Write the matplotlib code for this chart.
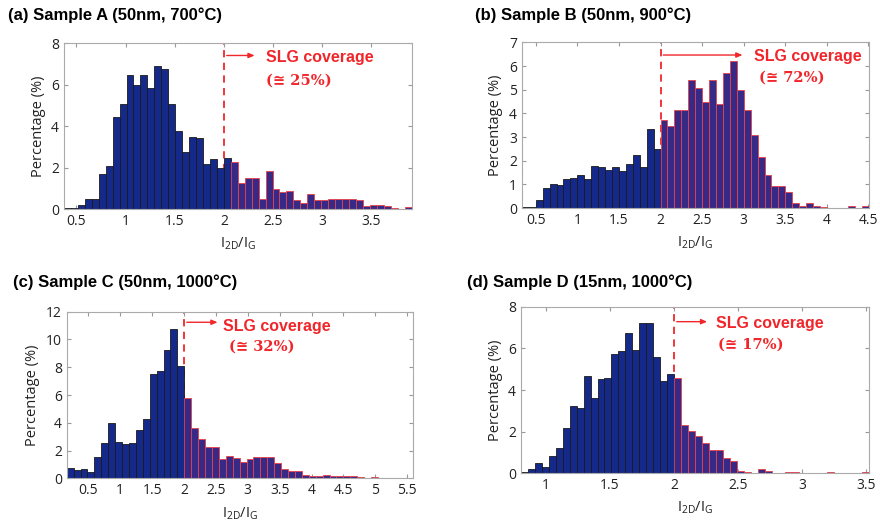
import matplotlib.pyplot as plt
import numpy as np
from matplotlib.ticker import FormatStrFormatter

# Raman I2D/IG histograms, 50 bins each (percent of spectra)
# bins: first left edge and bin width per sample
a_start, a_width = 0.373, 0.0707
a_heights = [0.05, 0.05, 0.2, 0.5, 0.5, 1.7, 2.07, 4.45, 5.06, 6.46,
             6.0, 6.46, 5.84, 6.9, 6.75, 5.06, 3.78, 2.77, 3.5, 3.41,
             2.16, 2.4, 1.98, 2.45, 2.28, 1.26, 1.52, 1.52, 0.5, 1.83,
             0.97, 0.81, 0.86, 0.42, 0.32, 0.71, 0.42, 0.42, 0.5, 0.5,
             0.5, 0.5, 0.42, 0.15, 0.2, 0.2, 0.15, 0.05, 0.0, 0.1]

b_start, b_width = 0.33, 0.0835
b_heights = [0.05, 0.05, 0.34, 0.85, 1.04, 0.99, 1.23, 1.28, 1.39, 1.23,
             1.8, 1.75, 1.63, 1.75, 1.56, 1.87, 2.24, 1.75, 3.34, 2.5,
             3.72, 3.45, 4.15, 4.15, 5.4, 5.06, 4.5, 5.4, 4.41, 5.7,
             6.2, 4.99, 4.15, 3.11, 2.15, 1.39, 0.92, 0.92, 0.7, 0.2,
             0.11, 0.2, 0.11, 0.06, 0.0, 0.0, 0.0, 0.1, 0.0, 0.1]

c_start, c_width = 0.16, 0.1085
c_heights = [0.74, 0.62, 0.65, 0.46, 1.53, 2.52, 3.98, 2.59, 2.47, 2.52,
             3.5, 4.27, 7.53, 7.75, 9.26, 10.72, 8.06, 5.76, 3.62, 2.81,
             2.23, 2.23, 1.37, 1.65, 1.46, 1.17, 1.37, 1.56, 1.56, 1.56,
             1.08, 0.67, 0.5, 0.5, 0.26, 0.19, 0.19, 0.24, 0.19, 0.19,
             0.14, 0.14, 0.1, 0.05, 0.12, 0.05, 0.05, 0.05, 0.03, 0.05]

d_start, d_width = 0.806, 0.0543
d_heights = [0.06, 0.22, 0.51, 0.3, 0.84, 1.19, 2.17, 3.25, 3.13, 4.67,
             3.63, 4.52, 4.6, 5.73, 5.87, 6.73, 5.94, 7.22, 7.22, 5.57,
             4.44, 4.78, 4.59, 2.3, 2.05, 1.78, 1.44, 1.11, 1.11, 0.73,
             0.57, 0.08, 0.05, 0.0, 0.22, 0.08, 0.0, 0.0, 0.05, 0.05,
             0.0, 0.0, 0.0, 0.0, 0.05, 0.0, 0.0, 0.0, 0.0, 0.05]

titles = ["(a) Sample A (50nm, 700°C)", "(b) Sample B (50nm, 900°C)",
          "(c) Sample C (50nm, 1000°C)", "(d) Sample D (15nm, 1000°C)"]
coverage = ["(≅ 25%)", "(≅ 72%)", "(≅ 32%)", "(≅ 17%)"]
slg_threshold = 2.0

plt.rcParams['mathtext.fontset'] = 'custom'
plt.rcParams['mathtext.rm'] = 'Open Sans'
plt.rcParams['mathtext.it'] = 'Open Sans'

BLUE = "#15298a"
PURPLE = "#372a86"
RED = "#f0262b"

fig = plt.figure(figsize=(8.8, 5.31), dpi=100)

# axes boxes [left, bottom, width, height]
boxes = [[0.0727, 0.606, 0.395, 0.313],
         [0.593, 0.608, 0.394, 0.312],
         [0.0758, 0.099, 0.393, 0.314],
         [0.592, 0.109, 0.3955, 0.313]]
panels = [(a_start, a_width, a_heights), (b_start, b_width, b_heights),
          (c_start, c_width, c_heights), (d_start, d_width, d_heights)]
xticks = [np.arange(0.5, 3.6, 0.5), np.arange(0.5, 4.6, 0.5),
          np.arange(0.5, 5.6, 0.5), np.arange(1.0, 3.6, 0.5)]
ylims = [8, 7, 12, 8]
ysteps = [2, 1, 2, 2]
# where the arrow / labels sit (x_end of arrow, arrow y, text x, text y, line2 x, line2 y)
notes = [(2.34, 7.4, 2.43, 7.3, 2.43, 6.2),
         (3.02, 6.47, 3.12, 6.4, 3.18, 5.5),
         (2.57, 11.24, 2.61, 10.9, 2.70, 9.5),
         (2.28, 7.29, 2.33, 7.22, 2.34, 6.2)]
title_pos = [(0.009, 0.972), (0.54, 0.972), (0.015, 0.468), (0.531, 0.468)]

for i in range(4):
    ax = fig.add_axes(boxes[i])
    start, width, heights = panels[i]
    lefts = start + width * np.arange(len(heights))
    heights = np.array(heights)
    blue = lefts < slg_threshold - 1e-6

    ax.axvline(slg_threshold, color=RED, ls=(0, (4, 3)), lw=1.3, zorder=1)
    ax.bar(lefts[blue], heights[blue], width=width, align='edge',
           color=BLUE, edgecolor="#1a1a1a", linewidth=0.6, zorder=2)
    ax.bar(lefts[~blue], heights[~blue], width=width, align='edge',
           color=PURPLE, edgecolor="#e8404a", linewidth=0.6, zorder=2)

    ax.set_xlim(start, start + width * len(heights))
    ax.set_ylim(0, ylims[i])
    ax.set_xticks(xticks[i])
    ax.set_yticks(np.arange(0, ylims[i] + 0.1, ysteps[i]))
    ax.xaxis.set_major_formatter(FormatStrFormatter('%g'))
    ax.tick_params(direction='in', top=True, right=True, length=3,
                   color="#999999", labelsize=10, labelcolor="#222222")
    for lab in ax.get_xticklabels() + ax.get_yticklabels():
        lab.set_family('Open Sans')
    for sp in ax.spines.values():
        sp.set_color("#aaaaaa")
        sp.set_linewidth(0.8)

    ax.set_xlabel("I$_{\\mathrm{2D}}$/I$_{\\mathrm{G}}$", family='Open Sans',
                  fontsize=10.5, color="#222222", labelpad=5)
    ax.set_ylabel("Percentage (%)", family='Open Sans', fontsize=10.5,
                  color="#222222", labelpad=4)

    # SLG coverage annotation
    x_end, y_arr, tx, ty, tx2, ty2 = notes[i]
    ax.annotate("", xy=(x_end, y_arr), xytext=(slg_threshold, y_arr),
                arrowprops=dict(arrowstyle="-|>,head_length=0.35,head_width=0.15",
                                color=RED, lw=1.0), zorder=3)
    ax.text(tx, ty, "SLG coverage", color=RED, fontsize=11.5,
            fontweight='bold', family='Liberation Sans', va='center', ha='left')
    ax.text(tx2, ty2, coverage[i], color=RED, fontsize=10.5, fontweight='bold',
            family=['DejaVu Serif', 'DejaVu Sans', 'Noto Sans CJK JP'],
            va='center', ha='left')

    fig.text(title_pos[i][0], title_pos[i][1], titles[i], fontsize=12,
             fontweight='bold', family='Liberation Sans', va='center', ha='left')

fig.savefig("out.png", dpi=100)
